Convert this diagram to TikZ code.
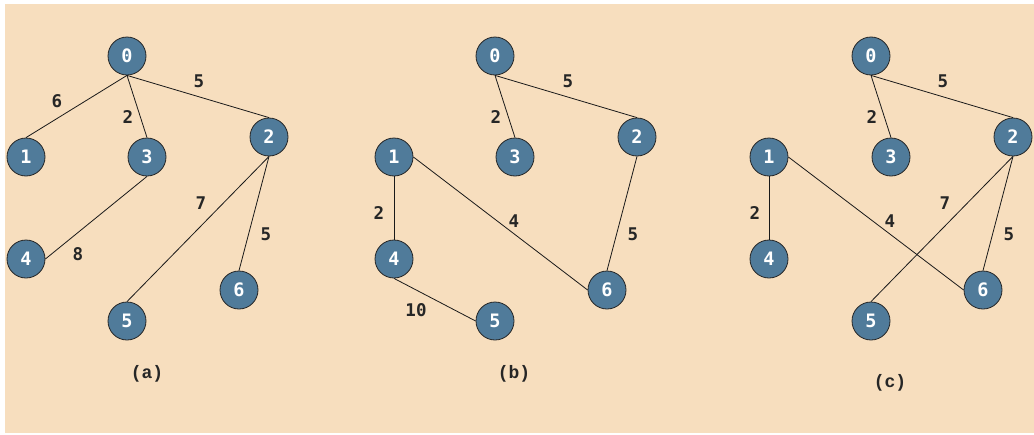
\documentclass[tikz,border=0pt]{standalone}
\usepackage{fontspec}
\newfontfamily\numfont{DejaVu Sans Mono}
\newfontfamily\capfont{Liberation Mono}
\definecolor{bgpeach}{RGB}{247,222,190}
\definecolor{nodeblue}{RGB}{80,123,154}
\begin{document}
\begin{tikzpicture}[x=1pt,y=-1pt,
  vtx/.style={circle,draw=black!85,line width=0.8pt,fill=nodeblue,minimum size=38pt,inner sep=0pt,text=white,font=\numfont\bfseries\fontsize{18.5}{18.5}\selectfont},
  wt/.style={inner sep=0pt,text=black!85,font=\numfont\bfseries\fontsize{17.5}{17.5}\selectfont},
  captext/.style={inner sep=0pt,text=black!85,font=\capfont\bfseries\fontsize{18}{18}\selectfont},
  edge/.style={draw=black!90,line width=0.8pt}]
\useasboundingbox (0,0) rectangle (1034,434);
\fill[white] (0,0) rectangle (1034,434);
\fill[bgpeach] (5,4) rectangle (1034,433);
% panel (a)
\node[vtx] (a0) at (127,56) {0};
\node[vtx] (a1) at (26,157) {1};
\node[vtx] (a2) at (269,137) {2};
\node[vtx] (a3) at (147,157) {3};
\node[vtx] (a4) at (26,259) {4};
\node[vtx] (a5) at (127,321) {5};
\node[vtx] (a6) at (239,290) {6};
\draw[edge] (a0.south) -- (a1.north);
\draw[edge] (a0.south) -- (a3.north);
\draw[edge] (a0.south) -- (a2.north);
\draw[edge] (a3.south) -- (a4.east);
\draw[edge] (a2.south) -- (a5.north);
\draw[edge] (a2.south) -- (a6.north);
\node[wt] (la01) at (57,101) {6};
\node[wt] (la03) at (128,117) {2};
\node[wt] (la02) at (199,81) {5};
\node[wt] (la25) at (201,203) {7};
\node[wt] (la26) at (266,234) {5};
\node[wt] (la34) at (78,254) {8};
\node[captext] (capa) at (147,374) {(a)};
% panel (b)
\node[vtx] (b0) at (495,56) {0};
\node[vtx] (b1) at (394,157) {1};
\node[vtx] (b2) at (637,137) {2};
\node[vtx] (b3) at (515,157) {3};
\node[vtx] (b4) at (394,259) {4};
\node[vtx] (b5) at (495,321) {5};
\node[vtx] (b6) at (607,290) {6};
\draw[edge] (b0.south) -- (b3.north);
\draw[edge] (b0.south) -- (b2.north);
\draw[edge] (b1.south) -- (b4.north);
\draw[edge] (b1.east) -- (b6.west);
\draw[edge] (b2.south) -- (b6.north);
\draw[edge] (b4.south) -- (b5.west);
\node[wt] (lb02) at (568,81) {5};
\node[wt] (lb03) at (496,117) {2};
\node[wt] (lb14) at (379,213) {2};
\node[wt] (lb16) at (514,221) {4};
\node[wt] (lb26) at (633,234) {5};
\node[wt] (lb45) at (416,310) {10};
\node[captext] (capb) at (514,374) {(b)};
% panel (c)
\node[vtx] (c0) at (871,56) {0};
\node[vtx] (c1) at (769,157) {1};
\node[vtx] (c2) at (1013,137) {2};
\node[vtx] (c3) at (891,157) {3};
\node[vtx] (c4) at (769,259) {4};
\node[vtx] (c5) at (871,321) {5};
\node[vtx] (c6) at (983,290) {6};
\draw[edge] (c0.south) -- (c3.north);
\draw[edge] (c0.south) -- (c2.north);
\draw[edge] (c1.south) -- (c4.north);
\draw[edge] (c1.east) -- (c6.west);
\draw[edge] (c2.south) -- (c5.north);
\draw[edge] (c2.south) -- (c6.north);
\node[wt] (lc02) at (943,81) {5};
\node[wt] (lc03) at (872,117) {2};
\node[wt] (lc14) at (755,213) {2};
\node[wt] (lc16) at (890,221) {4};
\node[wt] (lc25) at (945,203) {7};
\node[wt] (lc26) at (1009,234) {5};
\node[captext] (capc) at (890,383) {(c)};
\end{tikzpicture}
\end{document}
